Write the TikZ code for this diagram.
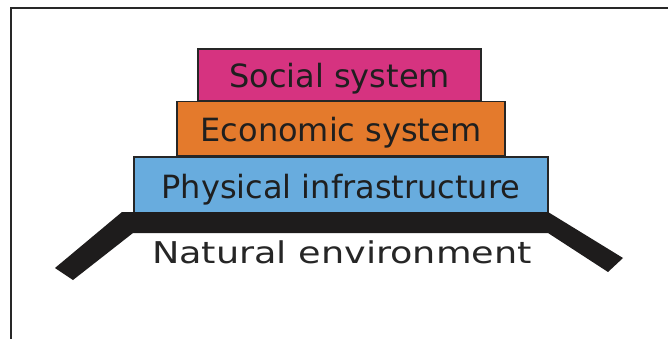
\documentclass[tikz,border=0pt]{standalone}
\usepackage{fontspec}
\setmainfont{DejaVu Sans}
\definecolor{socialc}{RGB}{214,51,128}
\definecolor{econc}{RGB}{228,122,44}
\definecolor{physc}{RGB}{104,172,222}
\definecolor{basec}{RGB}{30,28,28}
\definecolor{framec}{RGB}{40,40,40}
\begin{document}
\begin{tikzpicture}[x=1pt,y=-1pt,
  layer/.style={draw=black!85, line width=1.4pt, inner sep=0pt,
    text height=26pt, text depth=0pt,
    font=\fontsize{32}{36}\selectfont, text=black!88},
  framestyle/.style={draw=framec, line width=2.4pt},
  basestyle/.style={fill=basec},
  labelstyle/.style={inner sep=0pt, font=\fontsize{30}{34}\selectfont, text=black!85}
]
\useasboundingbox (0,0) rectangle (668,339);
\fill[white] (0,0) rectangle (668,339);
\draw[framestyle] (11,339) -- (11,8) -- (668,8);

\node[layer, fill=socialc, minimum width=283pt, minimum height=52pt] (social) at (339.5,75) {Social system};
\node[layer, fill=econc, minimum width=328pt, minimum height=54pt] (econ) at (341,128.5) {Economic system};
\node[layer, fill=physc, minimum width=414pt, minimum height=56pt] (phys) at (341,185) {Physical infrastructure};

\fill[basestyle] (122,212) -- (548,212) -- (623,258) -- (608,272) -- (548,233)
  -- (133,233) -- (73,280) -- (55,268) -- cycle;

\node[labelstyle, anchor=base] (natural) at (342,263) {\scalebox{1.22}[1]{Natural environment}};
\end{tikzpicture}
\end{document}
